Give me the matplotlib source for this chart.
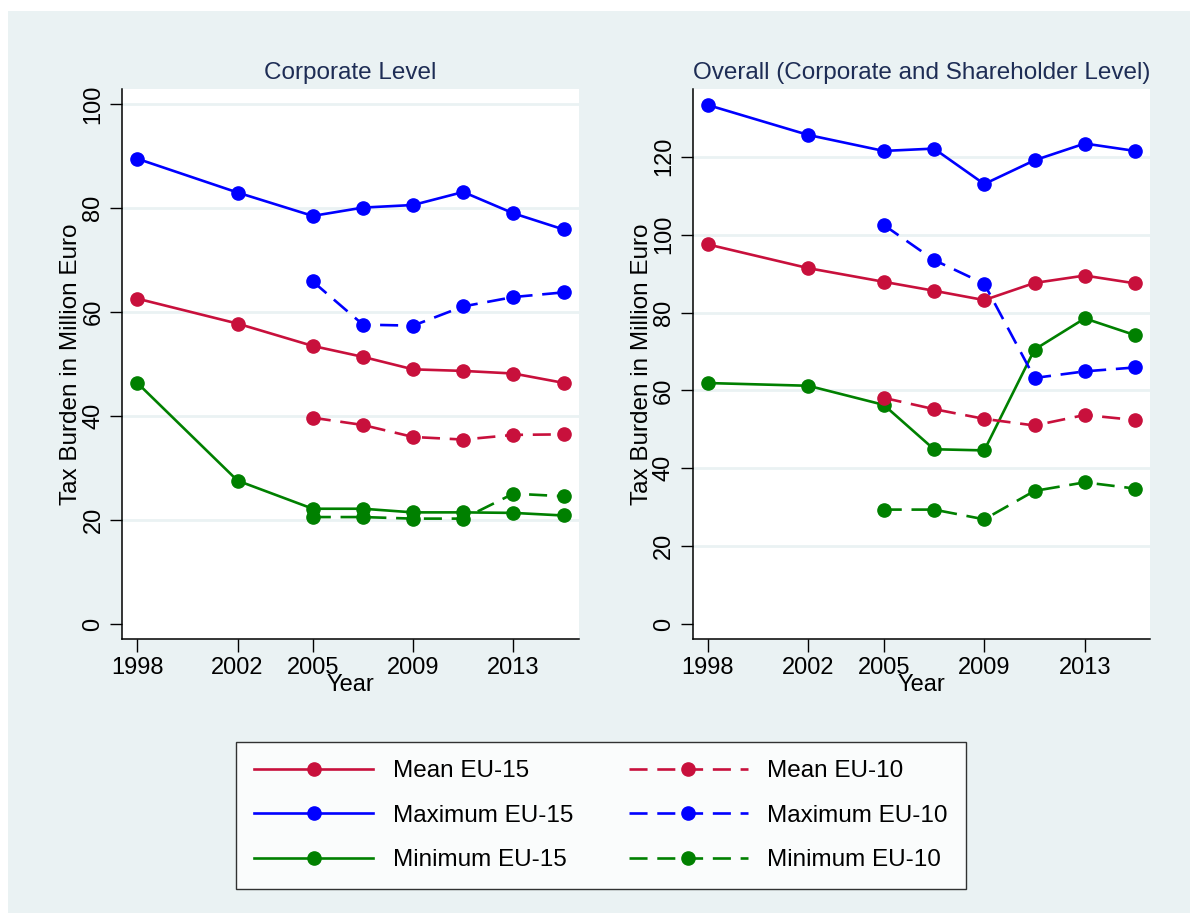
import matplotlib
matplotlib.use("Agg")
import matplotlib.pyplot as plt
from matplotlib.patches import Rectangle
from matplotlib.lines import Line2D

plt.rcParams["font.family"] = ["Liberation Sans", "DejaVu Sans"]
plt.rcParams["lines.scale_dashes"] = False

years = [1998, 2002, 2005, 2007, 2009, 2011, 2013, 2015]
years10 = [2005, 2007, 2009, 2011, 2013, 2015]

# Corporate level
corp_mean15 = [62.6, 57.8, 53.5, 51.4, 49.0, 48.7, 48.2, 46.4]
corp_max15 = [89.5, 83.0, 78.5, 80.1, 80.6, 83.1, 79.0, 75.9]
corp_min15 = [46.4, 27.6, 22.2, 22.2, 21.5, 21.5, 21.4, 20.9]
corp_mean10 = [39.7, 38.3, 36.0, 35.5, 36.4, 36.5]
corp_max10 = [65.9, 57.6, 57.4, 61.1, 62.9, 63.8]
corp_min10 = [20.6, 20.6, 20.3, 20.3, 25.1, 24.6]

# Overall (corporate and shareholder level)
all_mean15 = [97.5, 91.4, 87.9, 85.6, 83.2, 87.6, 89.5, 87.5]
all_max15 = [133.3, 125.6, 121.5, 122.1, 113.0, 119.1, 123.4, 121.5]
all_min15 = [61.9, 61.2, 56.3, 44.9, 44.6, 70.5, 78.5, 74.2]
all_mean10 = [58.1, 55.2, 52.7, 51.0, 53.7, 52.4]
all_max10 = [102.5, 93.5, 87.4, 63.2, 64.9, 65.9]
all_min10 = [29.4, 29.4, 26.9, 34.2, 36.4, 34.8]

xticks = [1998, 2002, 2005, 2009, 2013]

RED = "#C8103C"
BLUE = "#0000FF"
GREEN = "#008000"
BG = "#EAF2F3"
NAVY = "#1E2D55"
DASH = (0, (13, 7))

fig = plt.figure(figsize=(11.9, 9.13), dpi=100, facecolor="white")
fig.patches.append(Rectangle((8 / 1190, 0), 1, (913 - 11) / 913, transform=fig.transFigure,
                             facecolor=BG, edgecolor="none", zorder=-10))

ax1 = fig.add_axes([0.1029, 0.2998, 0.3833, 0.6027])
ax2 = fig.add_axes([0.5823, 0.2998, 0.3842, 0.6027])


def draw(ax, m15, x15, n15, m10, x10, n10, ymax, ytop, title):
    ax.set_facecolor("white")
    for t in range(20, ymax + 1, 20):
        ax.axhline(t, color=BG, lw=2, zorder=0)
    kw = dict(marker="o", markersize=9.5, lw=1.9)
    ax.plot(years, m15, color=RED, **kw)
    ax.plot(years, x15, color=BLUE, **kw)
    ax.plot(years, n15, color=GREEN, **kw)
    ax.plot(years10, m10, color=RED, ls=DASH, **kw)
    ax.plot(years10, x10, color=BLUE, ls=DASH, **kw)
    ax.plot(years10, n10, color=GREEN, ls=DASH, **kw)
    ax.set_xlim(1997.41, 2015.6)
    ax.set_ylim(ytop[0], ytop[1])
    ax.set_xticks(xticks)
    ax.set_yticks(list(range(0, ymax + 1, 20)))
    ax.tick_params(axis="both", length=9, width=1, labelsize=17, pad=4)
    for lab in ax.get_yticklabels():
        lab.set_rotation(90)
        lab.set_va("center")
    for s in ["top", "right"]:
        ax.spines[s].set_visible(False)
    for s in ["left", "bottom"]:
        ax.spines[s].set_linewidth(1.1)
    ax.set_xlabel("Year", fontsize=17, labelpad=-4)
    ax.set_ylabel("Tax Burden in Million Euro", fontsize=17.5, labelpad=0)
    ax.set_title(title, fontsize=17.5, color=NAVY, pad=7)


draw(ax1, corp_mean15, corp_max15, corp_min15, corp_mean10, corp_max10, corp_min10,
     100, (-2.9, 102.9), "Corporate Level")
draw(ax2, all_mean15, all_max15, all_min15, all_mean10, all_max10, all_min10,
     120, (-3.9, 137.4), "Overall (Corporate and Shareholder Level)")

labels = ["Mean EU-15", "Mean EU-10", "Maximum EU-15", "Maximum EU-10",
          "Minimum EU-15", "Minimum EU-10"]
colors = [RED, RED, BLUE, BLUE, GREEN, GREEN]
styles = ["-", DASH, "-", DASH, "-", DASH]
handles = [Line2D([], [], color=c, ls=s, lw=1.9, marker="o", markersize=9.5)
           for c, s in zip(colors, styles)]
# column-major order for the two-column legend
order = [0, 2, 4, 1, 3, 5]
leg = fig.legend([handles[i] for i in order], [labels[i] for i in order],
                 loc="center", bbox_to_anchor=(0.505, 0.1065), ncol=2,
                 fontsize=17.5, frameon=True, fancybox=False, handlelength=4.9,
                 handletextpad=0.8, columnspacing=2.3, labelspacing=0.92,
                 borderpad=0.75, markerscale=1.0)
leg.get_frame().set_edgecolor("black")
leg.get_frame().set_linewidth(1.0)

fig.savefig("out.png", dpi=100, facecolor="white")
